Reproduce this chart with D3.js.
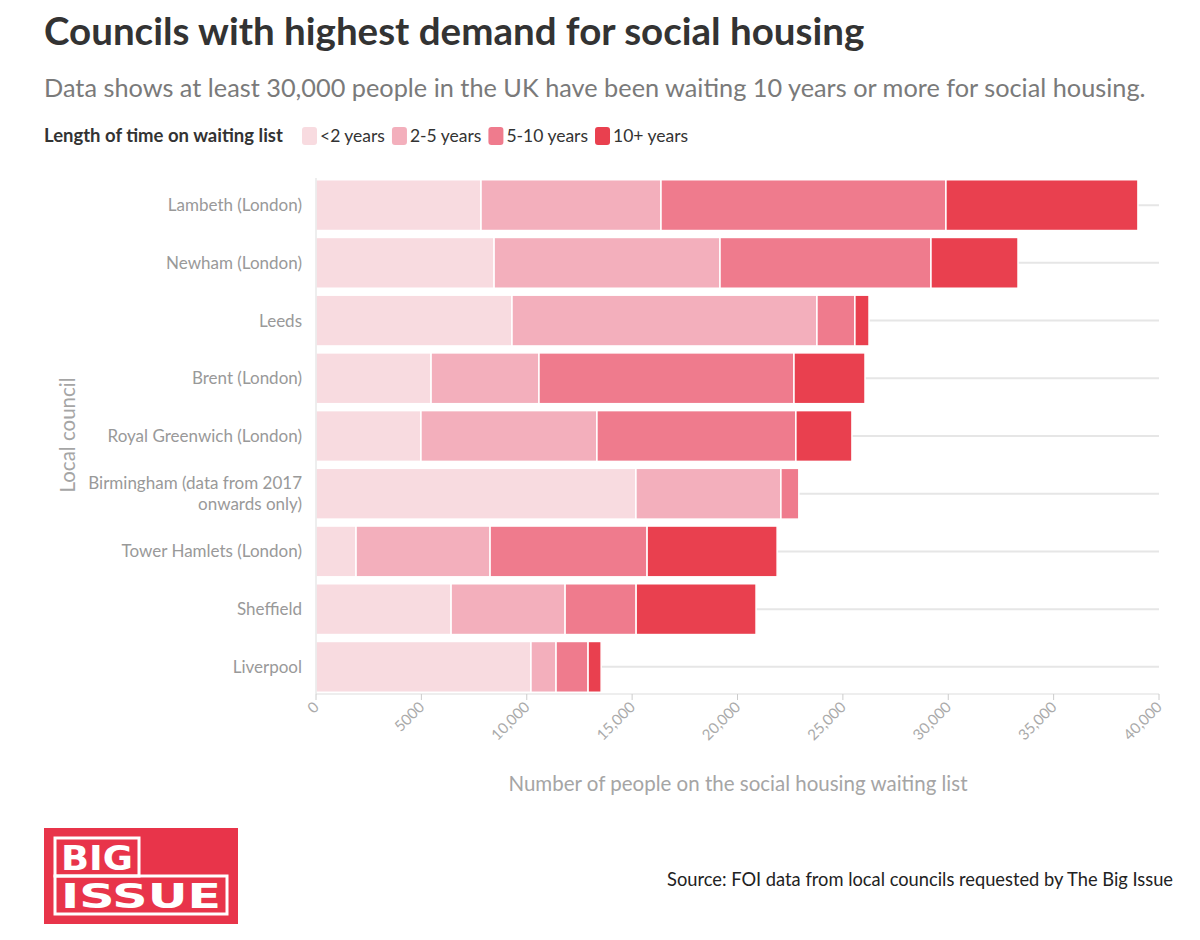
<!DOCTYPE html>
<html><head><meta charset="utf-8">
<script src="https://cdn.jsdelivr.net/npm/d3@7"></script>
<style>body{margin:0;background:#fff;font-family:Lato,"Open Sans",sans-serif}</style>
</head><body><svg id="c" width="1200" height="940"></svg>
<script>
const councils = ["Lambeth (London)","Newham (London)","Leeds","Brent (London)","Royal Greenwich (London)","Birmingham (data from 2017|onwards only)","Tower Hamlets (London)","Sheffield","Liverpool"];
const seriesNames = ["<2 years","2-5 years","5-10 years","10+ years"];
const under2 = [7830,8450,9300,5460,4980,15180,1900,6410,10200];
const y2to5 = [8540,10720,14470,5120,8350,6880,6360,5410,1190];
const y5to10 = [13520,10010,1800,12100,9440,850,7450,3370,1520];
const y10plus = [9110,4130,670,3370,2660,0,6170,5690,620];
const xTicks = [0,5000,10000,15000,20000,25000,30000,35000,40000];
const colors = ["#f8dbe0","#f3afbc","#ef7b8d","#e9404f"];

const svg = d3.select("#c");
const L=316,R=1159,T=178,B=694;
const x=d3.scaleLinear().domain([0,40000]).range([L,R]);
const y=d3.scaleBand().domain(councils).range([T,B]).paddingInner(0.12).paddingOuter(0.03);

svg.append("text").attr("x",44).attr("y",45).attr("font-size",38.5).attr("font-weight",700).attr("fill","#333").text("Councils with highest demand for social housing");
svg.append("text").attr("x",44).attr("y",97).attr("font-size",25.3).attr("fill","#7a7a7a").text("Data shows at least 30,000 people in the UK have been waiting 10 years or more for social housing.");
const lg=svg.append("g");
lg.append("text").attr("x",44).attr("y",142).attr("font-size",18.5).attr("font-weight",700).attr("fill","#333").text("Length of time on waiting list");
let lx=302;
seriesNames.forEach((s,i)=>{
  lg.append("rect").attr("x",lx).attr("y",127).attr("width",15).attr("height",18).attr("rx",3).attr("fill",colors[i]);
  const t=lg.append("text").attr("x",lx+18).attr("y",142).attr("font-size",17.5).attr("fill","#333").text(s);
  lx+=t.node().getComputedTextLength()+25;
});

councils.forEach(c=>svg.append("line").attr("x1",L).attr("x2",R).attr("y1",y(c)+y.bandwidth()/2).attr("y2",y(c)+y.bandwidth()/2).attr("stroke","#e6e6e6").attr("stroke-width",2));

const data=councils.map((c,i)=>({c,"<2 years":under2[i],"2-5 years":y2to5[i],"5-10 years":y5to10[i],"10+ years":y10plus[i]}));
const st=d3.stack().keys(seriesNames)(data);
st.forEach((layer,i)=>{
  svg.append("g").selectAll("rect").data(layer).join("rect")
   .attr("x",d=>x(d[0])).attr("width",d=>Math.max(0,x(d[1])-x(d[0])))
   .attr("y",d=>y(d.data.c)).attr("height",y.bandwidth())
   .attr("fill",colors[i]).attr("stroke","#fff").attr("stroke-width",1.5);
});
svg.append("line").attr("x1",L).attr("x2",L).attr("y1",T).attr("y2",B).attr("stroke","#ddd");
svg.append("line").attr("x1",L).attr("x2",R).attr("y1",B).attr("y2",B).attr("stroke","#ddd");

councils.forEach(c=>{
  const parts=c.split("|");
  const t=svg.append("text").attr("x",302).attr("text-anchor","end").attr("font-size",17).attr("fill","#999");
  const cy=y(c)+y.bandwidth()/2;
  parts.forEach((p,j)=>t.append("tspan").attr("x",302).attr("y",cy+6+(j-(parts.length-1)/2)*21).text(p));
});
xTicks.forEach(v=>{
  svg.append("line").attr("x1",x(v)).attr("x2",x(v)).attr("y1",B).attr("y2",B+6).attr("stroke","#ccc");
  svg.append("text").attr("transform",`translate(${x(v)+4},${B+14}) rotate(-45)`).attr("text-anchor","end").attr("font-size",15).attr("fill","#aaa")
    .text(v>=10000?d3.format(",")(v):String(v));
});
svg.append("text").attr("x",738).attr("y",791).attr("text-anchor","middle").attr("font-size",20.5).attr("fill","#a5a5a5").text("Number of people on the social housing waiting list");
svg.append("text").attr("transform","translate(75,435) rotate(-90)").attr("text-anchor","middle").attr("font-size",20.5).attr("fill","#a5a5a5").text("Local council");

const lo=svg.append("g");
lo.append("rect").attr("x",44).attr("y",828).attr("width",194).attr("height",96).attr("fill","#e8344a");
lo.append("rect").attr("x",55).attr("y",838).attr("width",84).attr("height",38).attr("fill","none").attr("stroke","#fff").attr("stroke-width",3);
lo.append("rect").attr("x",55).attr("y",876).attr("width",172).attr("height",38).attr("fill","none").attr("stroke","#fff").attr("stroke-width",3);
lo.append("text").attr("x",97).attr("y",870).attr("text-anchor","middle").attr("font-size",34).attr("font-weight",900).attr("fill","#fff").attr("font-family","'DejaVu Sans'").attr("textLength",72).attr("lengthAdjust","spacingAndGlyphs").text("BIG");
lo.append("text").attr("x",141).attr("y",908).attr("text-anchor","middle").attr("font-size",34).attr("font-weight",900).attr("fill","#fff").attr("font-family","'DejaVu Sans'").attr("textLength",160).attr("lengthAdjust","spacingAndGlyphs").text("ISSUE");
svg.append("text").attr("x",1173).attr("y",886).attr("text-anchor","end").attr("font-size",18.3).attr("fill","#222").text("Source: FOI data from local councils requested by The Big Issue");
</script></body></html>
